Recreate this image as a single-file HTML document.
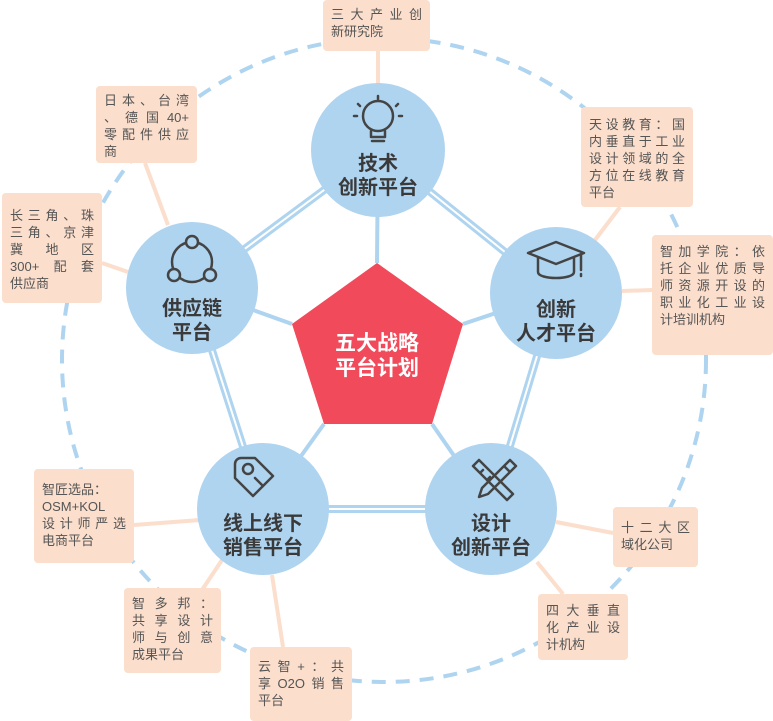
<!DOCTYPE html>
<html><head><meta charset="utf-8"><style>
html,body{margin:0;padding:0;background:#fff}
#w{position:relative;width:773px;height:721px;overflow:hidden;font-family:"Liberation Sans","Noto Sans CJK SC",sans-serif}
.b{position:absolute;background:#fbdecc;border-radius:4px;color:#555;font-size:13px;line-height:17px;box-sizing:border-box;padding:5px 8px}
.b div{text-align:justify;text-align-last:justify;white-space:nowrap}
.b div.l{text-align-last:left}
.c{position:absolute;text-align:center;font-weight:bold;color:#3a3a3a;font-size:20px;line-height:24px;width:140px}
</style></head><body><div id="w">
<svg width="773" height="721" style="position:absolute;left:0;top:0">
<circle cx="384" cy="360" r="322" fill="none" stroke="#aed4f0" stroke-width="4" stroke-dasharray="14 10"/>
<g stroke="#fbdecc" stroke-width="4">
<line x1="378" y1="51" x2="378" y2="85"/>
<line x1="145" y1="163" x2="168" y2="225"/>
<line x1="102" y1="263" x2="128" y2="272"/>
<line x1="620" y1="207" x2="595" y2="240"/>
<line x1="622" y1="291" x2="652" y2="290"/>
<line x1="134" y1="525" x2="200" y2="520"/>
<line x1="202" y1="590" x2="222" y2="560"/>
<line x1="283" y1="647" x2="272" y2="575"/>
<line x1="556" y1="522" x2="613" y2="533"/>
<line x1="537" y1="562" x2="563" y2="594"/>
</g>
<g stroke="#aed4f0">
<g stroke-width="8">
<line x1="378" y1="150" x2="192" y2="288"/><line x1="378" y1="150" x2="556" y2="293"/>
<line x1="556" y1="293" x2="491" y2="509"/><line x1="491" y1="509" x2="263" y2="509"/>
<line x1="263" y1="509" x2="192" y2="288"/>
</g>
<g stroke="#fff" stroke-width="2">
<line x1="378" y1="150" x2="192" y2="288"/><line x1="378" y1="150" x2="556" y2="293"/>
<line x1="556" y1="293" x2="491" y2="509"/><line x1="491" y1="509" x2="263" y2="509"/>
<line x1="263" y1="509" x2="192" y2="288"/>
</g>
<g stroke-width="4">
<line x1="378" y1="150" x2="377" y2="263"/><line x1="192" y1="288" x2="292" y2="324"/>
<line x1="556" y1="293" x2="463" y2="324"/><line x1="263" y1="509" x2="324" y2="424"/>
<line x1="491" y1="509" x2="432" y2="424"/>
</g>
</g>
<polygon points="377,263 463,324 432,424 324,424 292,324" fill="#f14a5a"/>
<g fill="#afd4f0">
<circle cx="378" cy="150" r="67"/><circle cx="192" cy="288" r="66"/><circle cx="556" cy="293" r="66"/>
<circle cx="263" cy="509" r="66"/><circle cx="491" cy="509" r="66"/>
</g>
<g fill="none" stroke="#444" stroke-width="2.5" stroke-linecap="round" stroke-linejoin="round">
<circle cx="378" cy="116" r="15"/><path d="M371 131v6h14v-6M372 141h12"/>
<path d="M378 96v3M358 104l2 2M398 104l-2 2M354 116h3M402 116h-3"/>
<circle cx="192" cy="262" r="20"/>
<circle cx="192" cy="242" r="6" fill="#afd4f0"/><circle cx="174" cy="275" r="6" fill="#afd4f0"/><circle cx="210" cy="275" r="6" fill="#afd4f0"/>
<path d="M528 253l28-11 28 11-28 11z"/><path d="M538 258v14c0 8 36 8 36 0v-14M581 254v16M581 274v2"/>
<path d="M241 458h14l18 18-20 20-18-18v-14a6 6 0 0 1 6-6z" transform="translate(0 0)"/>
<circle cx="248" cy="469" r="5"/><path d="M255 478l8 8"/>
<path d="M473 466l6-6 34 34-6 6zM480 473l3-3M487 480l3-3"/>
<path d="M510 460l6 6-28 28-9 3 3-9zM504 466l6 6"/>
</g>
<text x="377" y="350" fill="#fff" font-size="21" font-weight="bold" text-anchor="middle" font-family="Liberation Sans,Noto Sans CJK SC,sans-serif">五大战略</text>
<text x="377" y="375" fill="#fff" font-size="21" font-weight="bold" text-anchor="middle" font-family="Liberation Sans,Noto Sans CJK SC,sans-serif">平台计划</text>
</svg>
<div class="c" style="left:308px;top:152px">技术<br>创新平台</div>
<div class="c" style="left:122px;top:297px">供应链<br>平台</div>
<div class="c" style="left:486px;top:298px">创新<br>人才平台</div>
<div class="c" style="left:193px;top:512px">线上线下<br>销售平台</div>
<div class="c" style="left:421px;top:512px">设计<br>创新平台</div>
<div class="b" style="left:323px;top:0;width:107px;height:51px;padding-top:6px"><div>三大产业创</div><div class="l">新研究院</div></div>
<div class="b" style="left:96px;top:86px;width:101px;height:77px;padding-top:6px"><div>日本、台湾</div><div>、德国40+</div><div>零配件供应</div><div class="l">商</div></div>
<div class="b" style="left:2px;top:193px;width:100px;height:110px;padding-top:14px"><div>长三角、珠</div><div>三角、京津</div><div>冀地区</div><div>300+配套</div><div class="l">供应商</div></div>
<div class="b" style="left:581px;top:107px;width:112px;height:100px;padding-top:9px"><div>天设教育：国</div><div>内垂直于工业</div><div>设计领域的全</div><div>方位在线教育</div><div class="l">平台</div></div>
<div class="b" style="left:652px;top:235px;width:121px;height:120px;padding-top:8px"><div>智加学院：依</div><div>托企业优质导</div><div>师资源开设的</div><div>职业化工业设</div><div class="l">计培训机构</div></div>
<div class="b" style="left:34px;top:469px;width:100px;height:94px;padding-top:12px"><div class="l">智匠选品：</div><div>OSM+KOL</div><div>设计师严选</div><div class="l">电商平台</div></div>
<div class="b" style="left:124px;top:588px;width:97px;height:85px;padding-top:7px"><div>智多邦：</div><div>共享设计</div><div>师与创意</div><div class="l">成果平台</div></div>
<div class="b" style="left:250px;top:647px;width:102px;height:74px;padding-top:11px"><div>云智+：共</div><div>享O2O销售</div><div class="l">平台</div></div>
<div class="b" style="left:613px;top:507px;width:85px;height:60px;padding-top:12px"><div>十二大区</div><div class="l">域化公司</div></div>
<div class="b" style="left:538px;top:594px;width:90px;height:66px;padding-top:8px"><div>四大垂直</div><div>化产业设</div><div class="l">计机构</div></div>
</div></body></html>
